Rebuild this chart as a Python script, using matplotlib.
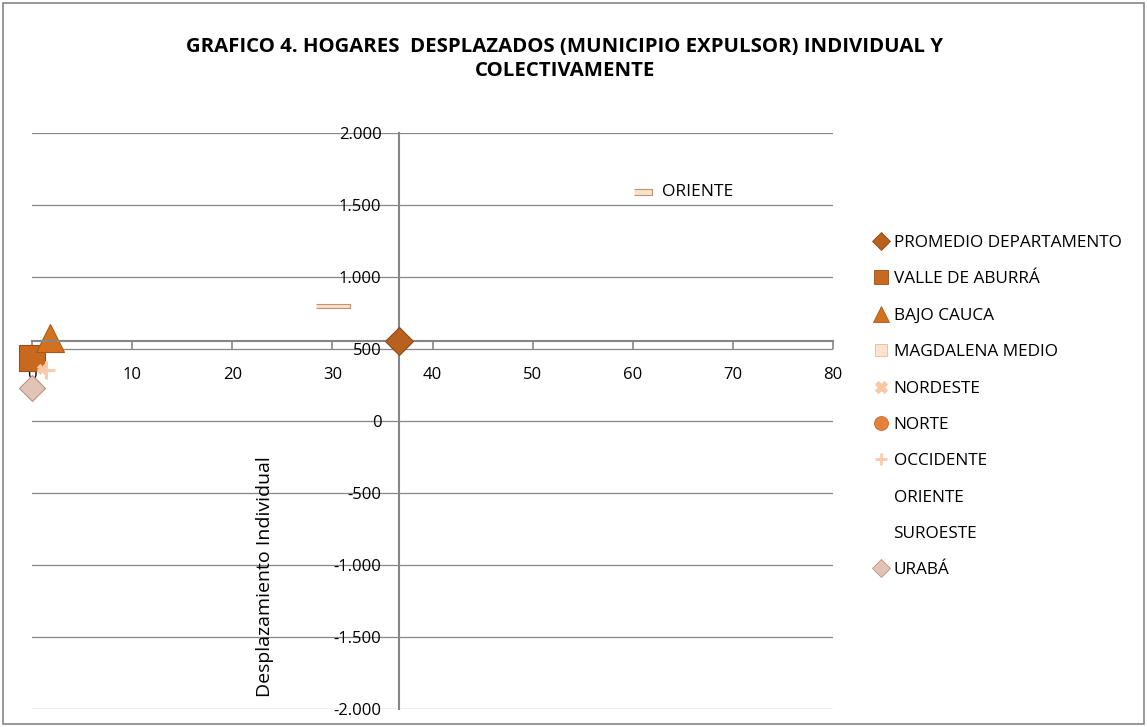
import matplotlib
matplotlib.use('Agg')
import matplotlib.pyplot as plt
from matplotlib.lines import Line2D
from matplotlib.patches import Rectangle
from matplotlib.ticker import FuncFormatter, MultipleLocator

plt.rcParams['font.family'] = ['Open Sans', 'DejaVu Sans']
plt.rcParams['axes.unicode_minus'] = False

# datos
regiones = ['PROMEDIO DEPARTAMENTO', 'VALLE DE ABURRÁ', 'BAJO CAUCA', 'MAGDALENA MEDIO',
            'NORDESTE', 'NORTE', 'OCCIDENTE', 'ORIENTE', 'SUROESTE', 'URABÁ']
desp_colectivo = [36.7, 0.0, 1.8, 0.2, 1.0, 0.1, 1.4, 61.0, 30.1, 0.0]
desp_individual = [555, 437, 576, 250, 360, 240, 355, 1590, 800, 230]

x_ticks = list(range(0, 81, 10))
y_ticks = list(range(-2000, 2001, 500))

# estilo de cada serie: marcador, tamaño, relleno, borde, tamaño en leyenda
rect_fino = [(-1, -0.28), (1, -0.28), (1, 0.28), (-1, 0.28)]
estilos = {
    'PROMEDIO DEPARTAMENTO': dict(marker='D', ms=14, mfc='#B8601E', mec='#8E4714', leg=9),
    'VALLE DE ABURRÁ': dict(marker='s', ms=19, mfc='#C8691F', mec='#9A4F17', leg=10),
    'BAJO CAUCA': dict(marker='^', ms=20, mfc='#D4711F', mec='#A85A18', leg=11),
    'MAGDALENA MEDIO': dict(marker='s', ms=6, mfc='#FCE3CF', mec='#F5B88C', leg=8),
    'NORDESTE': dict(marker='X', ms=7, mfc='#F9C7A2', mec='#F9C7A2', leg=9),
    'NORTE': dict(marker='o', ms=10, mfc='#E5813A', mec='#C96A26', leg=10),
    'OCCIDENTE': dict(marker='+', ms=13, mfc='#F9CBAE', mec='#F9CBAE', leg=9),
    'ORIENTE': dict(marker=rect_fino, ms=13, mfc='#F8E2C6', mec='#C4927A', leg=None),
    'SUROESTE': dict(marker=[(-1, -0.14), (1, -0.14), (1, 0.14), (-1, 0.14)], ms=24,
                     mfc='#F8E2C6', mec='#C4927A', leg=None),
    'URABÁ': dict(marker='D', ms=13, mfc='#E2C4B6', mec='#B99483', leg=9),
}

gris = '#868686'

fig = plt.figure(figsize=(11.47, 7.27), dpi=100)
W, H = 1147, 727
ax = fig.add_axes([32 / W, (H - 709) / H, 801 / W, 576 / H])

ax.set_xlim(0, 80)
ax.set_ylim(-2000, 2000)

# los ejes se cruzan en el promedio del departamento
cruce_x, cruce_y = desp_colectivo[0], desp_individual[0]
for lado in ['top', 'right']:
    ax.spines[lado].set_visible(False)
ax.spines['left'].set_position(('data', cruce_x))
ax.spines['bottom'].set_position(('data', cruce_y))
for lado in ['left', 'bottom']:
    ax.spines[lado].set_color(gris)
    ax.spines[lado].set_linewidth(1.5)

ax.xaxis.set_major_locator(MultipleLocator(10))
ax.set_yticks(y_ticks)
ax.yaxis.set_major_formatter(FuncFormatter(lambda v, p: f'{v:,.0f}'.replace(',', '.')))
ax.tick_params(axis='x', direction='out', length=5.5, width=1.2, color=gris, pad=13,
               labelsize=12, labelcolor='black')
ax.tick_params(axis='y', length=0, pad=13, labelsize=12, labelcolor='black')
ax.yaxis.grid(True, color=gris, linewidth=0.9)
ax.set_axisbelow(True)

for i, reg in enumerate(regiones):
    e = estilos[reg]
    z = 4 if i == 0 else 2
    ax.plot(desp_colectivo[i], desp_individual[i], linestyle='none', marker=e['marker'],
            markersize=e['ms'], markerfacecolor=e['mfc'], markeredgecolor=e['mec'],
            markeredgewidth=2.2 if reg == 'OCCIDENTE' else 0.8, zorder=z, clip_on=False)

ax.annotate('ORIENTE', xy=(desp_colectivo[7], desp_individual[7]), xytext=(14, 0),
            textcoords='offset points', va='center', ha='left', fontsize=12.5)

ax.set_ylabel('Desplazamiento Individual', fontsize=14)
ax.yaxis.set_label_coords((274 - 32) / 801, (709 - 577) / 576)

# leyenda
handles = []
for reg in regiones:
    e = estilos[reg]
    if e['leg'] is None:
        handles.append(Line2D([], [], linestyle='none', marker='none'))
    else:
        handles.append(Line2D([], [], linestyle='none', marker=e['marker'], markersize=e['leg'],
                              markerfacecolor=e['mfc'], markeredgecolor=e['mec'],
                              markeredgewidth=2 if reg == 'OCCIDENTE' else 0.6))
fig.legend(handles, regiones, loc='upper left', bbox_to_anchor=(872 / W, 1 - 235 / H),
           frameon=False, fontsize=12.4, handlelength=1.0, handletextpad=0.25,
           borderpad=0, borderaxespad=0, labelspacing=1.18)

fig.text(565 / W, 1 - 47 / H, 'GRAFICO 4. HOGARES  DESPLAZADOS (MUNICIPIO EXPULSOR) INDIVIDUAL Y',
         ha='center', va='center', fontsize=14.7, fontweight='bold')
fig.text(565 / W, 1 - 71 / H, 'COLECTIVAMENTE', ha='center', va='center', fontsize=14.7,
         fontweight='bold')

# marco del gráfico
fig.patches.append(Rectangle((3 / W, 3 / H), 1 - 6 / W, 1 - 6 / H, transform=fig.transFigure,
                             fill=False, edgecolor=gris, linewidth=1.2))

fig.savefig('out.png', dpi=100)
